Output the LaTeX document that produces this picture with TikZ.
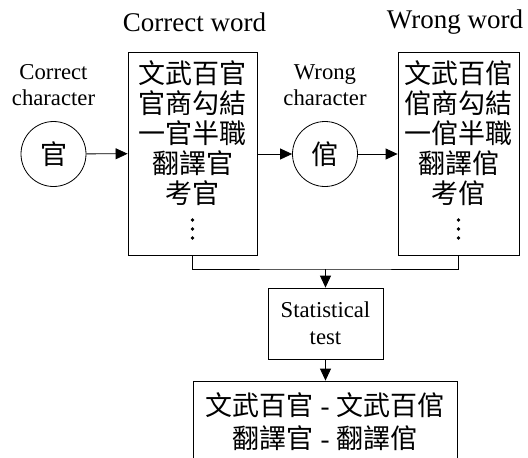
\documentclass[tikz,border=0pt]{standalone}
\usepackage{fontspec}
\setmainfont{Liberation Serif}
\newfontfamily\cjk{Noto Sans CJK TC}
\usetikzlibrary{arrows.meta}
\begin{document}
\begin{tikzpicture}[x=1pt,y=-1pt,
  line width=0.8pt,
  arr/.style={-{Triangle[length=12pt,width=11pt]}},
  boxsty/.style={draw,rectangle,inner sep=0pt},
  circsty/.style={draw,circle,inner sep=0pt,minimum size=65pt,font=\cjk\fontsize{27}{30}\selectfont},
  bigtitle/.style={inner sep=0pt,font=\fontsize{27}{30}\selectfont},
  label/.style={inner sep=0pt,align=center,font=\fontsize{22.7}{26}\selectfont},
  cjklines/.style={inner sep=0pt,align=center,font=\cjk\fontsize{27}{30}\selectfont},
  dotsty/.style={fill=black,circle,inner sep=0pt,minimum size=3.6pt}
]
\useasboundingbox (0,0) rectangle (528,458);
% titles
\node[bigtitle] (tcw) at (194.5,22) {Correct word};
\node[bigtitle] (twr) at (455,22) {Wrong word};
% labels
\node[label] (lcc) at (53.5,85) {Correct\\character};
\node[label] (lwc) at (325,85) {Wrong\\character};
% circles
\node[circsty] (c1) at (53.5,154) {官};
\node[circsty] (c2) at (325,154) {倌};
% word boxes
\node[boxsty,minimum width=129pt,minimum height=203pt] (cw) at (192.5,153.5) {};
\node[boxsty,minimum width=121pt,minimum height=203pt] (wr) at (458.5,153.5) {};
\node[cjklines] (cwt) at (192.5,133) {文武百官\\官商勾結\\一官半職\\翻譯官\\考官};
\node[cjklines] (wrt) at (458.5,133) {文武百倌\\倌商勾結\\一倌半職\\翻譯倌\\考倌};
\node[dotsty] (cd1) at (192.5,220) {};
\node[dotsty] (cd2) at (192.5,229) {};
\node[dotsty] (cd3) at (192.5,238) {};
\node[dotsty] (wd1) at (458.5,220) {};
\node[dotsty] (wd2) at (458.5,229) {};
\node[dotsty] (wd3) at (458.5,238) {};
% statistical test
\node[boxsty,minimum width=115pt,minimum height=71pt] (st) at (325.5,323.5) {};
\node[label,font=\fontsize{22.7}{27}\selectfont] (stt) at (325.5,323.5) {Statistical\\test};
% result box
\node[boxsty,minimum width=264pt,minimum height=82pt] (res) at (325,422) {};
\node[inner sep=0pt,align=center,font=\fontsize{27}{33}\selectfont] (rest) at (325,421.5)
  {{\cjk 文武百官} - {\cjk 文武百倌}\\{\cjk 翻譯官} - {\cjk 翻譯倌}};
% connectors
\coordinate (j) at (325.5,269);
\draw[arr] (c1) -- (cw);
\draw[arr] (cw.east |- c2) -- (c2);
\draw[arr] (c2) -- (wr.west |- c2);
\draw (cw.south) |- (j) -| (wr.south);
\draw[arr] (j) -- (st.north);
\draw[arr] (st.south) -- (res.north -| st.south);
\end{tikzpicture}
\end{document}
